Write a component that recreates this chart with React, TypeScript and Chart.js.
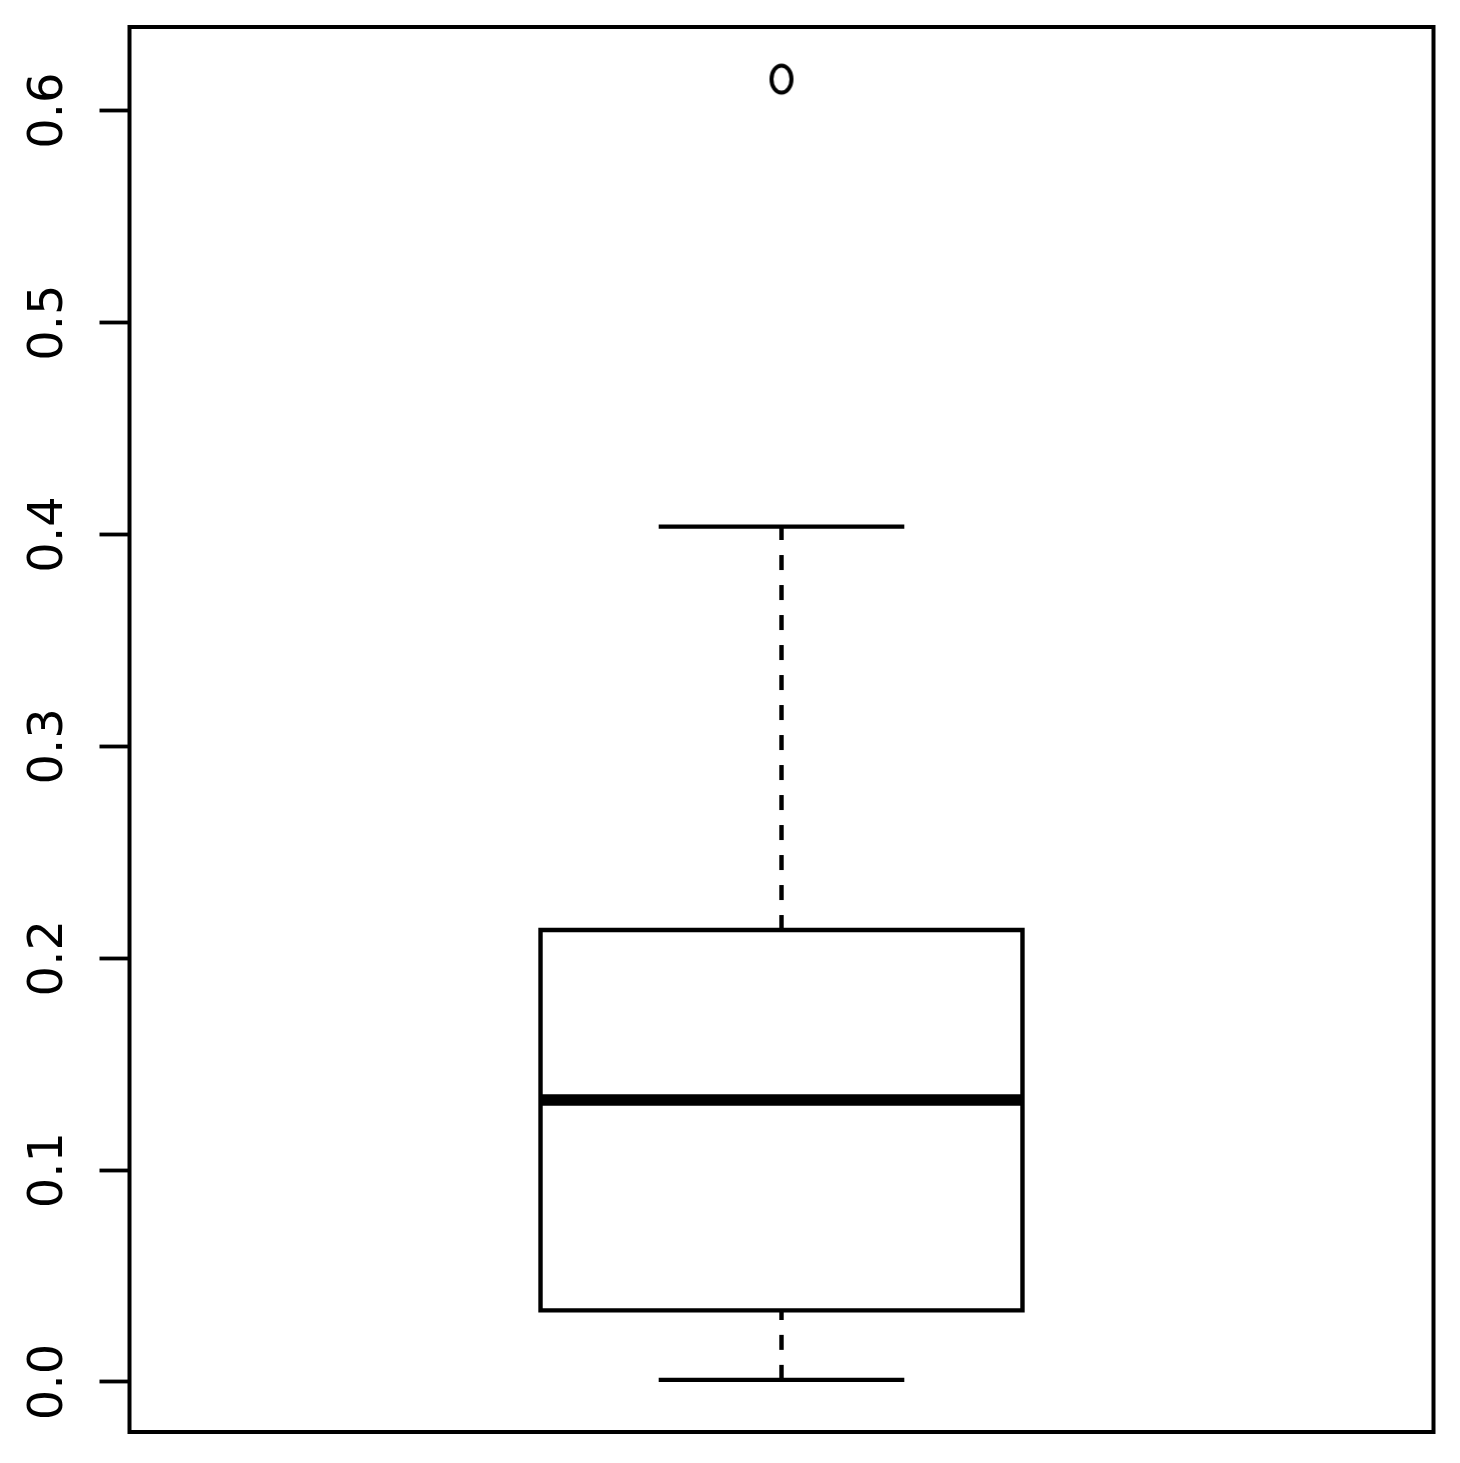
import React, { useEffect, useRef } from "react";
import { Chart, registerables } from "chart.js";

Chart.register(...registerables);

// ---- data ----
const categories = ["1"];
const categoryPositions = [1];
const whiskerLow = [0.001];
const quartile1 = [0.0338];
const medians = [0.1331];
const quartile3 = [0.2133];
const whiskerHigh = [0.4037];
const outlierValues = [[0.6149]];
const yTickValues = [0, 0.1, 0.2, 0.3, 0.4, 0.5, 0.6];
const yTickLabels = ["0.0", "0.1", "0.2", "0.3", "0.4", "0.5", "0.6"];
const yRange = [-0.0236, 0.6395];
const xRange = [0.5, 1.5];

// ---- geometry / styles ----
const BOX_HALF = 0.1848;
const STAPLE_HALF = 0.0925;
const LINE_W = 4.4;
const MEDIAN_W = 11.5;
const FONT = "'DejaVu Sans', 'Liberation Sans', sans-serif";

function makeEllipse(): HTMLCanvasElement {
  const c = document.createElement("canvas");
  c.width = 28;
  c.height = 36;
  const g = c.getContext("2d")!;
  g.strokeStyle = "#000";
  g.lineWidth = 4;
  g.beginPath();
  g.ellipse(14, 18, 10, 13.6, 0, 0, Math.PI * 2);
  g.stroke();
  return c;
}

export default function App() {
  const ref = useRef<HTMLCanvasElement | null>(null);

  useEffect(() => {
    if (!ref.current) return;
    const ellipse = makeEllipse();
    const datasets: any[] = [];
    const common = {
      showLine: true,
      pointRadius: 0,
      pointHoverRadius: 0,
      borderColor: "#000",
      backgroundColor: "#000",
      fill: false,
      tension: 0,
    };
    categories.forEach((name, i) => {
      const c = categoryPositions[i];
      // lower whisker (dashed), drawn from the minimum up to Q1
      datasets.push({
        ...common,
        label: name + " lower whisker",
        data: [
          { x: c, y: whiskerLow[i] },
          { x: c, y: quartile1[i] },
        ],
        borderWidth: LINE_W,
        borderDash: [15, 15],
        borderCapStyle: "butt",
      });
      // upper whisker (dashed), drawn from Q3 up to the maximum
      datasets.push({
        ...common,
        label: name + " upper whisker",
        data: [
          { x: c, y: quartile3[i] },
          { x: c, y: whiskerHigh[i] },
        ],
        borderWidth: LINE_W,
        borderDash: [15, 15],
        borderCapStyle: "butt",
      });
      // staples
      [whiskerLow[i], whiskerHigh[i]].forEach((v, k) => {
        datasets.push({
          ...common,
          label: name + (k ? " max" : " min"),
          data: [
            { x: c - STAPLE_HALF, y: v },
            { x: c + STAPLE_HALF, y: v },
          ],
          borderWidth: LINE_W,
          borderCapStyle: "square",
        });
      });
      // box
      datasets.push({
        ...common,
        label: name + " box",
        data: [
          { x: c - BOX_HALF, y: quartile3[i] },
          { x: c + BOX_HALF, y: quartile3[i] },
          { x: c + BOX_HALF, y: quartile1[i] },
          { x: c - BOX_HALF, y: quartile1[i] },
          { x: c - BOX_HALF, y: quartile3[i] },
        ],
        borderWidth: LINE_W,
        borderCapStyle: "square",
        borderJoinStyle: "miter",
      });
      // median
      datasets.push({
        ...common,
        label: name + " median",
        data: [
          { x: c - BOX_HALF, y: medians[i] },
          { x: c + BOX_HALF, y: medians[i] },
        ],
        borderWidth: MEDIAN_W,
        borderCapStyle: "butt",
      });
      // outliers
      datasets.push({
        label: name + " outliers",
        data: outlierValues[i].map((v) => ({ x: c, y: v })),
        showLine: false,
        pointStyle: ellipse,
        pointRadius: 14,
        pointHoverRadius: 14,
        borderColor: "#000",
        backgroundColor: "rgba(0,0,0,0)",
      });
    });

    const framePlugin = {
      id: "frame",
      beforeDraw(chart: any) {
        const { ctx, width, height } = chart;
        ctx.save();
        ctx.fillStyle = "#fff";
        ctx.fillRect(0, 0, width, height);
        ctx.restore();
      },
      afterDraw(chart: any) {
        const { ctx, chartArea } = chart;
        ctx.save();
        ctx.strokeStyle = "#000";
        ctx.lineWidth = 4;
        ctx.lineJoin = "miter";
        ctx.strokeRect(
          chartArea.left,
          chartArea.top,
          chartArea.right - chartArea.left,
          chartArea.bottom - chartArea.top
        );
        ctx.restore();
      },
    };

    const chart = new Chart(ref.current, {
      type: "scatter",
      data: { datasets },
      plugins: [framePlugin],
      options: {
        animation: false,
        responsive: false,
        maintainAspectRatio: false,
        devicePixelRatio: 1,
        events: [],
        layout: { padding: { left: 0, top: 27, right: 26.5, bottom: 31 } },
        plugins: {
          legend: { display: false },
          tooltip: { enabled: false },
          title: { display: false },
        },
        scales: {
          x: {
            type: "linear",
            display: false,
            min: xRange[0],
            max: xRange[1],
          },
          y: {
            type: "linear",
            position: "left",
            min: yRange[0],
            max: yRange[1],
            afterBuildTicks: (scale: any) => {
              scale.ticks = yTickValues.map((v) => ({ value: v }));
            },
            afterFit: (scale: any) => {
              scale.width = 129.5;
              scale.paddingTop = 0;
              scale.paddingBottom = 0;
            },
            border: { display: false },
            grid: {
              drawOnChartArea: false,
              drawTicks: true,
              tickLength: 30,
              tickWidth: 3.8,
              tickColor: "#000",
              color: "#000",
            },
            ticks: {
              autoSkip: false,
              minRotation: 90,
              maxRotation: 90,
              crossAlign: "center",
              padding: 12,
              color: "#000",
              font: { family: FONT, size: 48 },
              callback: (value: any, index: number) =>
                yTickLabels[index] ?? Number(value).toFixed(1),
            },
          },
        },
      } as any,
    });
    return () => chart.destroy();
  }, []);

  return (
    <div
      style={{
        position: "fixed",
        left: 0,
        top: 0,
        width: 1460,
        height: 1463,
        background: "#fff",
      }}
    >
      <canvas ref={ref} width={1460} height={1463} />
    </div>
  );
}
